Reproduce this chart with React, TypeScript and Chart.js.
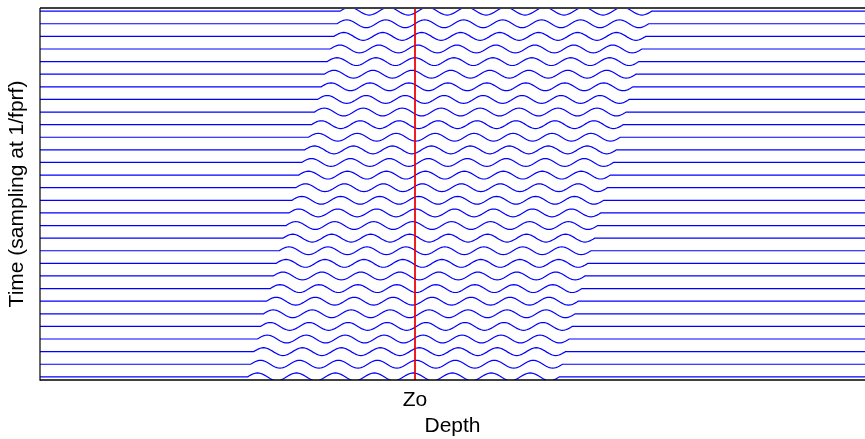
import React, { useEffect, useRef } from "react";
import { Chart, registerables } from "chart.js";

Chart.register(...registerables);

// Depth axis (arbitrary units), with the reference depth Zo
const depthMin = 0;
const depthMax = 110;
const zoDepth = 50;
const xTickValues = [50];
const xTickLabels = ["Zo"];

// Time steps (one trace per sample at 1/fprf), top to bottom
const timeSteps = [
  0, 1, 2, 3, 4, 5, 6, 7, 8, 9, 10, 11, 12, 13, 14,
  15, 16, 17, 18, 19, 20, 21, 22, 23, 24, 25, 26, 27, 28, 29,
];

// Depth where the wave packet begins on each trace
const packetStarts = [
  40.0, 39.6, 39.2, 38.7, 38.3, 37.9, 37.5, 37.0, 36.6, 36.2,
  35.8, 35.3, 34.9, 34.5, 34.1, 33.6, 33.2, 32.8, 32.4, 31.9,
  31.5, 31.1, 30.7, 30.2, 29.8, 29.4, 29.0, 28.5, 28.1, 27.7,
];

// Packet shape
const packetWidth = 41.56;
const packetCycles = 8;
const packetAmplitude = 0.31;
const samplesPerCycle = 24;

const traceColor = "rgb(0,0,255)";
const zoColor = "rgb(235,0,0)";

function buildTrace(t: number, start: number) {
  const pts: { x: number; y: number }[] = [{ x: depthMin, y: t }];
  const n = packetCycles * samplesPerCycle;
  for (let k = 0; k <= n; k++) {
    const f = k / n;
    pts.push({
      x: start + packetWidth * f,
      y: t - packetAmplitude * Math.sin(2 * Math.PI * packetCycles * f),
    });
  }
  pts.push({ x: depthMax, y: t });
  return pts;
}

const framePlugin = {
  id: "frame",
  afterDraw(chart: any) {
    const { ctx, chartArea } = chart;
    const { left, right, top, bottom } = chartArea;
    ctx.save();
    ctx.strokeStyle = "#404040";
    ctx.lineWidth = 2;
    ctx.beginPath();
    ctx.moveTo(left, top);
    ctx.lineTo(right, top);
    ctx.stroke();
    ctx.strokeStyle = "#000";
    ctx.lineWidth = 1.5;
    ctx.beginPath();
    ctx.moveTo(left, bottom);
    ctx.lineTo(right, bottom);
    ctx.stroke();
    ctx.lineWidth = 1.2;
    ctx.beginPath();
    ctx.moveTo(left, top);
    ctx.lineTo(left, bottom + 0.75);
    ctx.stroke();
    ctx.restore();
  },
};

export default function App() {
  const ref = useRef<HTMLCanvasElement | null>(null);

  useEffect(() => {
    if (!ref.current) return;
    Chart.defaults.font.family = "'Liberation Sans', Arial, Helvetica, sans-serif";
    const yMin = timeSteps[0] - 0.25;
    const yMax = timeSteps[timeSteps.length - 1] + 0.25;

    const datasets: any[] = [
      {
        label: "Zo",
        data: [
          { x: zoDepth, y: yMin },
          { x: zoDepth, y: yMax },
        ],
        borderColor: zoColor,
        borderWidth: 1,
        showLine: true,
        pointRadius: 0,
        order: 0,
      },
    ];
    timeSteps.forEach((t, i) => {
      datasets.push({
        label: "t" + t,
        data: buildTrace(t, packetStarts[i]),
        borderColor: traceColor,
        borderWidth: 1.2,
        showLine: true,
        pointRadius: 0,
        tension: 0,
        order: 1,
      });
    });

    const chart = new Chart(ref.current, {
      type: "scatter",
      data: { datasets },
      options: {
        animation: false,
        responsive: false,
        devicePixelRatio: 1,
        layout: { padding: { top: 8, right: 0, left: 0, bottom: 0 } },
        plugins: { legend: { display: false }, tooltip: { enabled: false } },
        scales: {
          x: {
            type: "linear",
            position: "bottom",
            min: depthMin,
            max: depthMax,
            grid: { display: false, drawTicks: false },
            border: { display: false },
            afterBuildTicks: (scale: any) => {
              scale.ticks = xTickValues.map((v) => ({ value: v }));
            },
            afterFit: (scale: any) => {
              scale.height = 59;
            },
            ticks: {
              color: "#000",
              font: { size: 21 },
              padding: 8,
              maxRotation: 0,
              autoSkip: false,
              callback: (v: any) => {
                const idx = xTickValues.indexOf(Number(v));
                return idx >= 0 ? xTickLabels[idx] : "";
              },
            },
            title: {
              display: true,
              text: "Depth",
              color: "#000",
              font: { size: 21 },
              padding: { top: 0, bottom: 0 },
            },
          },
          y: {
            type: "linear",
            reverse: true,
            min: yMin,
            max: yMax,
            grid: { display: false, drawTicks: false },
            border: { display: false },
            ticks: { display: false },
            afterFit: (scale: any) => {
              scale.width = 40;
            },
            title: {
              display: true,
              text: "Time (sampling at 1/fprf)",
              color: "#000",
              font: { size: 21 },
              padding: { top: 5, bottom: 0 },
            },
          },
        },
      },
      plugins: [framePlugin],
    });
    return () => chart.destroy();
  }, []);

  return (
    <div style={{ position: "fixed", left: 0, top: 0, width: 865, height: 439, background: "#fff" }}>
      <canvas ref={ref} width={865} height={439} style={{ width: 865, height: 439 }} />
    </div>
  );
}
